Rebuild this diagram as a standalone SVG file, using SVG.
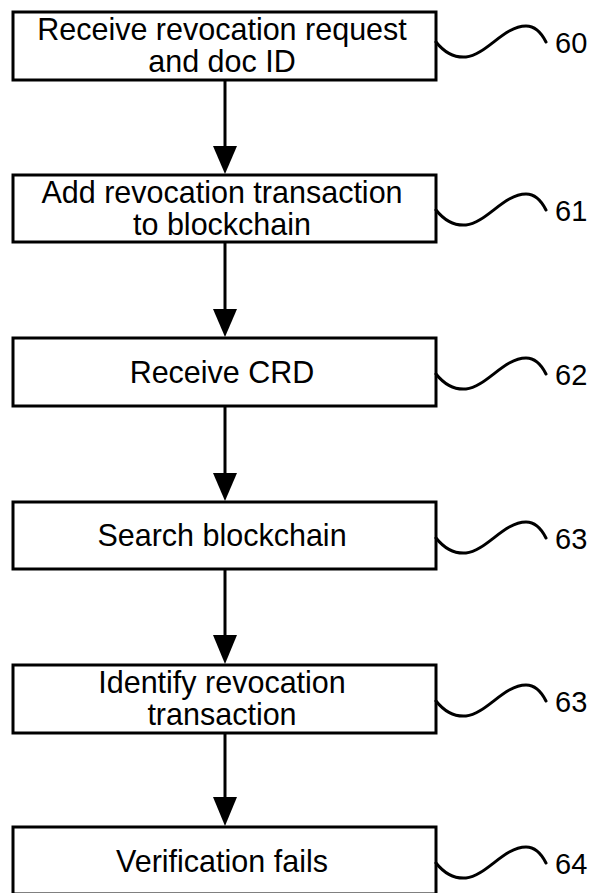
<svg xmlns="http://www.w3.org/2000/svg" width="593" height="893" viewBox="0 0 593 893">
  <defs>
    <style>
      .box { fill: #fff; stroke: #000; stroke-width: 3; }
      .lbl { font-family: "Liberation Sans", Arial, sans-serif; font-size: 30.5px; fill: #000; text-anchor: middle; }
      .ref { font-family: "Liberation Sans", Arial, sans-serif; font-size: 29px; fill: #000; }
      .wave { fill: none; stroke: #000; stroke-width: 3; stroke-linecap: round; }
      .edge { stroke: #000; stroke-width: 3; fill: none; }
      .head { fill: #000; }
    </style>
    <!-- leader line from a box edge to its reference numeral -->
    <path id="squiggle" class="wave" d="M0,0 C8,10 18,16 30,15 C50,13 68,-16 90,-16 C100,-16 106,-8 110,0"/>
  </defs>

  <rect width="593" height="893" fill="#fff"/>

  <!-- connectors -->
  <g id="connectors">
    <line class="edge" x1="225" y1="80" x2="225" y2="148"/>
    <polygon class="head" points="213,146 237,146 225,174"/>
    <line class="edge" x1="225" y1="242" x2="225" y2="311"/>
    <polygon class="head" points="213,309 237,309 225,337"/>
    <line class="edge" x1="225" y1="406" x2="225" y2="475"/>
    <polygon class="head" points="213,473 237,473 225,501"/>
    <line class="edge" x1="225" y1="569" x2="225" y2="637"/>
    <polygon class="head" points="213,635 237,635 225,664"/>
    <line class="edge" x1="225" y1="733" x2="225" y2="799"/>
    <polygon class="head" points="213,797 237,797 225,826"/>
  </g>

  <g id="step60">
    <rect class="box" x="13" y="12" width="423" height="68"/>
    <text class="lbl" x="222" y="40">Receive revocation request</text>
    <text class="lbl" x="222" y="72">and doc ID</text>
    <use href="#squiggle" x="436" y="42"/>
    <text class="ref" x="555" y="53">60</text>
  </g>

  <g id="step61">
    <rect class="box" x="13" y="175" width="423" height="67"/>
    <text class="lbl" x="222" y="203">Add revocation transaction</text>
    <text class="lbl" x="222" y="235">to blockchain</text>
    <use href="#squiggle" x="436" y="210"/>
    <text class="ref" x="555" y="221">61</text>
  </g>

  <g id="step62">
    <rect class="box" x="13" y="338" width="423" height="68"/>
    <text class="lbl" x="222" y="383">Receive CRD</text>
    <use href="#squiggle" x="436" y="374"/>
    <text class="ref" x="555" y="385">62</text>
  </g>

  <g id="step63a">
    <rect class="box" x="13" y="502" width="423" height="67"/>
    <text class="lbl" x="222" y="546">Search blockchain</text>
    <use href="#squiggle" x="436" y="538"/>
    <text class="ref" x="555" y="549">63</text>
  </g>

  <g id="step63b">
    <rect class="box" x="13" y="665" width="423" height="68"/>
    <text class="lbl" x="222" y="693">Identify revocation</text>
    <text class="lbl" x="222" y="725">transaction</text>
    <use href="#squiggle" x="436" y="701"/>
    <text class="ref" x="555" y="712">63</text>
  </g>

  <g id="step64">
    <rect class="box" x="13" y="827" width="423" height="67"/>
    <text class="lbl" x="222" y="872">Verification fails</text>
    <use href="#squiggle" x="436" y="863"/>
    <text class="ref" x="555" y="874">64</text>
  </g>
</svg>
